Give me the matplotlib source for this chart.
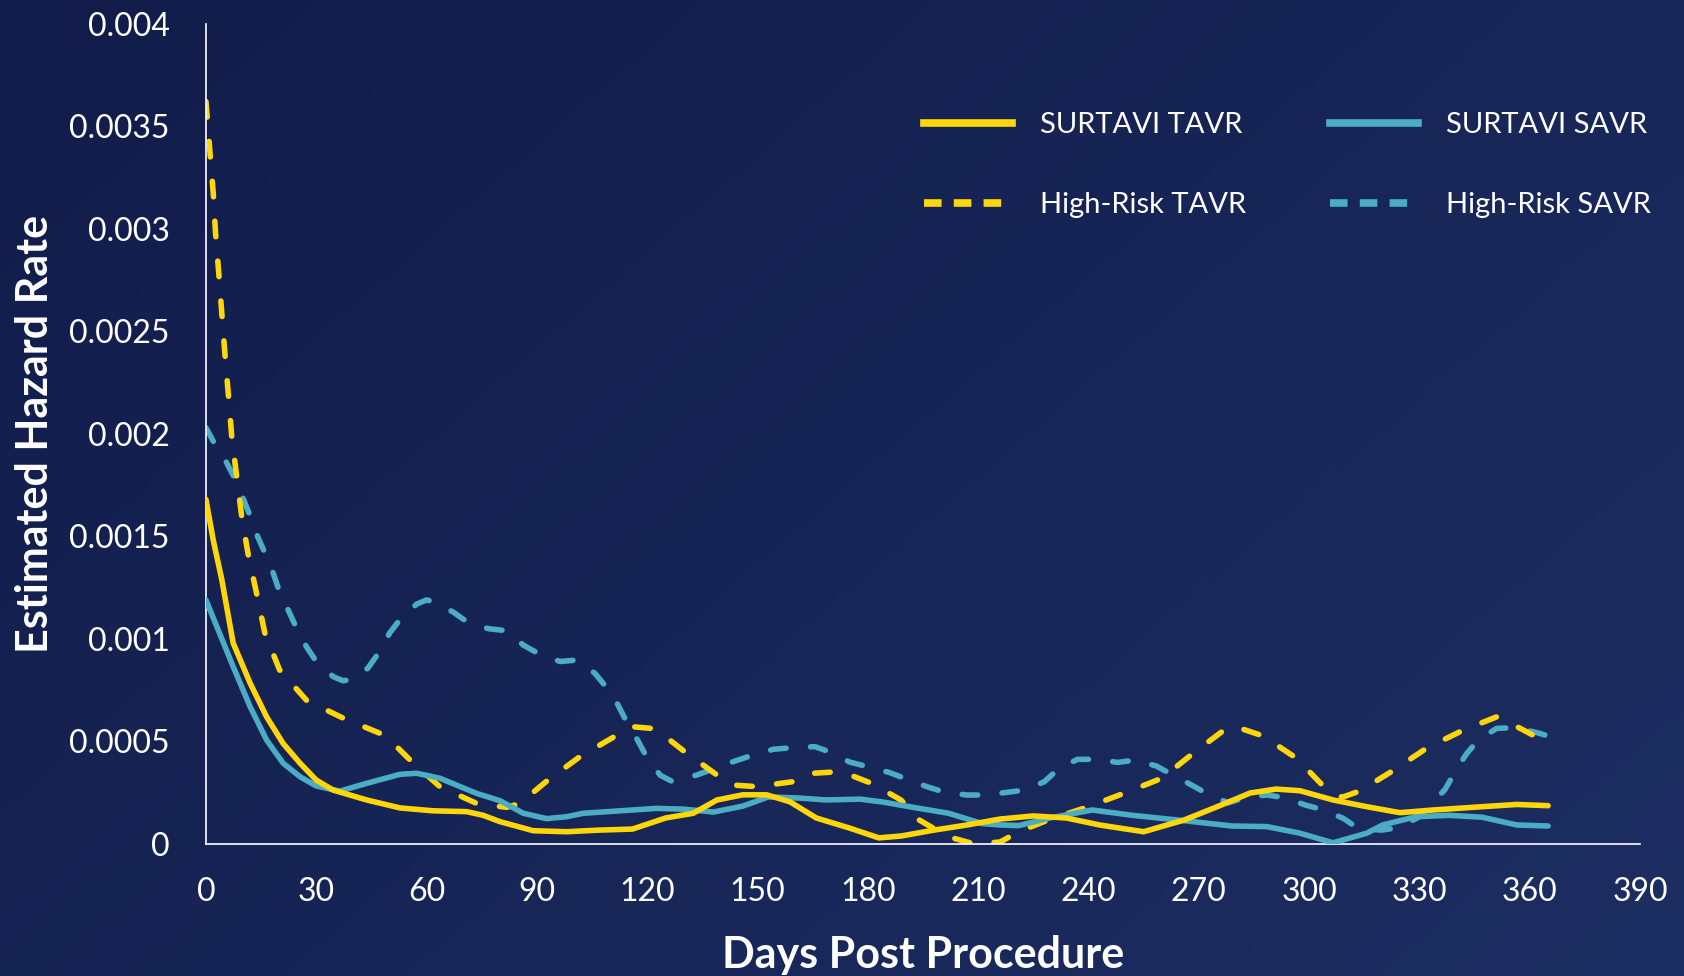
import numpy as np
import matplotlib
matplotlib.use("Agg")
import matplotlib.pyplot as plt
from matplotlib.lines import Line2D

plt.rcParams['font.family'] = ['Lato', 'DejaVu Sans']

# hazard curves, day post procedure vs estimated hazard rate
surtavi_tavr_days = [0, 2, 4.3, 7.4, 12, 16.5, 21, 25.6, 30, 34.6, 43.7, 52.8, 61.8, 70.9, 75.4, 80, 89, 98,
                     107, 116, 125, 132.5, 139, 146, 152.5, 158.8, 166, 175, 183, 189, 198, 207, 216, 225,
                     234, 243, 255, 266, 275, 284, 291, 297.5, 306.5, 315.7, 324.7, 333.7, 347, 356.5, 365]
surtavi_tavr = [0.00168, 0.00148, 0.00129, 0.00098, 0.000785, 0.00062, 0.00049, 0.000394, 0.000312, 0.000263,
                0.000215, 0.000176, 0.000162, 0.000158, 0.00014, 0.000109, 0.000065, 0.00006, 0.000068,
                0.000073, 0.000127, 0.00015, 0.000215, 0.00024, 0.00024, 0.000206, 0.000127, 0.000078,
                0.00003, 0.000039, 0.000068, 0.000093, 0.000122, 0.000137, 0.000127, 0.000093, 0.00006,
                0.000117, 0.000182, 0.000249, 0.000268, 0.00026, 0.000215, 0.000182, 0.000153, 0.000166,
                0.000182, 0.000193, 0.000187]

surtavi_savr_days = [0, 7.4, 12, 16.5, 21, 25.6, 30, 36.4, 43.7, 52.8, 57.3, 63.6, 73.6, 80, 86.3, 92.6,
                     98, 102.6, 112.6, 122.6, 130, 138, 146, 153, 161.5, 168.8, 177.9, 184, 193, 202, 211,
                     216, 221, 229.5, 241, 252, 266, 279, 288.5, 297.5, 306.5, 315.7, 320, 329, 338, 347,
                     356.5, 365]
surtavi_savr = [0.00119, 0.000865, 0.00067, 0.000507, 0.000394, 0.000328, 0.000283, 0.000258, 0.000296,
                0.00034, 0.000345, 0.000321, 0.000247, 0.000211, 0.00015, 0.000124, 0.000133, 0.00015,
                0.000162, 0.000174, 0.00017, 0.000156, 0.000185, 0.00023, 0.000224, 0.000215, 0.000219,
                0.000205, 0.000177, 0.00015, 0.0001, 0.000093, 0.00009, 0.000127, 0.000166, 0.00014,
                0.000114, 0.000088, 0.000085, 0.000053, 0.000006, 0.000053, 0.000093, 0.000133, 0.00014,
                0.000131, 0.000093, 0.000088]

highrisk_tavr_days = [0, 1.1, 2, 2.6, 3.5, 4.3, 5.2, 6.1, 7, 8.3, 9.7, 11.5, 13.8, 16, 20, 27.4, 37.3,
                      47.3, 51, 55.5, 63.6, 73.6, 81.8, 85.4, 93, 101.7, 111, 116, 121, 125, 130, 139,
                      143, 149.7, 159.6, 165, 170.5, 174, 181, 189, 194, 198.7, 203, 209, 216, 221, 229,
                      240, 250, 260, 268.5, 277.5, 280, 287.5, 296.6, 304, 309, 314, 323, 332, 342, 351,
                      354, 361, 365]
highrisk_tavr = [0.00362, 0.00337, 0.00317, 0.00298, 0.00278, 0.00259, 0.00238, 0.00219, 0.00199,
                 0.0018, 0.0016, 0.00141, 0.00122, 0.00103, 0.00085, 0.0007, 0.000614, 0.00054, 0.00049,
                 0.00041, 0.00028, 0.000198, 0.000179, 0.000198, 0.000312, 0.000426, 0.000523, 0.000572,
                 0.000564, 0.000523, 0.000453, 0.000336, 0.000288, 0.00028, 0.000304, 0.000345, 0.000351,
                 0.000345, 0.000296, 0.000215, 0.000117, 0.000068, 0.00003, 0.0, 0.00001, 0.00006,
                 0.000117, 0.000182, 0.00025, 0.000321, 0.000443, 0.000564, 0.000572, 0.000527, 0.000418,
                 0.00028, 0.000228, 0.00026, 0.00036, 0.000468, 0.000556, 0.00062, 0.000596, 0.00053,
                 0.0005]

highrisk_savr_days = [0, 2.4, 5.6, 7.9, 10, 12, 13.8, 16, 18.3, 20, 22.4, 24.7, 27.4, 30, 34.6, 37.3,
                      39.6, 44, 47.3, 50, 53, 57.3, 60, 62.3, 67.3, 71.3, 76.8, 81.8, 86.3, 90.8, 96.3,
                      100.8, 105.8, 109, 112, 114.4, 117.6, 119.8, 123.5, 126.6, 133.4, 138.4, 143.9,
                      148.8, 154.3, 159.5, 165.6, 170, 175, 180, 186, 190.5, 196, 201, 207, 212, 217.8,
                      222.7, 228, 231.8, 237, 242, 248, 253, 258.5, 263, 268, 272.6, 278, 283, 288.5,
                      293.4, 299, 304, 309.3, 313.4, 319.7, 324.3, 330, 333, 337, 339.7, 342.9, 346, 351,
                      356, 362, 365]
highrisk_savr = [0.00203, 0.00195, 0.00186, 0.00178, 0.00169, 0.0016, 0.00151, 0.00142, 0.00132,
                 0.00123, 0.00114, 0.00105, 0.00096, 0.00089, 0.000816, 0.000796, 0.000803, 0.000857,
                 0.00094, 0.00103, 0.0011, 0.00117, 0.00119, 0.00118, 0.00113, 0.00108, 0.00105, 0.00104,
                 0.00097, 0.000925, 0.00089, 0.000897, 0.000832, 0.000762, 0.00068, 0.000596, 0.0005,
                 0.000426, 0.000336, 0.000307, 0.000336, 0.000369, 0.000405, 0.000434, 0.000462,
                 0.00047, 0.000475, 0.000447, 0.0004, 0.000377, 0.000348, 0.000317, 0.00028, 0.000252,
                 0.000239, 0.000239, 0.000252, 0.000263, 0.000304, 0.000366, 0.000413, 0.000413,
                 0.000398, 0.00041, 0.00038, 0.000336, 0.000288, 0.000242, 0.000201, 0.000228,
                 0.000239, 0.000226, 0.00019, 0.000166, 0.000125, 0.000076, 0.000068, 0.00008,
                 0.000133, 0.00019, 0.000267, 0.000353, 0.000442, 0.000507, 0.000564, 0.000567,
                 0.000543, 0.000527]

x_ticks = list(range(0, 391, 30))
y_ticks = [0, 0.0005, 0.001, 0.0015, 0.002, 0.0025, 0.003, 0.0035, 0.004]
y_tick_labels = ["0", "0.0005", "0.001", "0.0015", "0.002", "0.0025", "0.003", "0.0035", "0.004"]

YELLOW = "#FFD60A"
TEAL = "#4BACC6"
DASH = (2.8, 4.4)

fig = plt.figure(figsize=(16.84, 9.76), dpi=100)

# navy background, slightly lighter towards the bottom right
bg = fig.add_axes([0, 0, 1, 1], zorder=-10)
h, w = 200, 340
yy, xx = np.mgrid[0:h, 0:w]
t = (xx / w * 0.6 + yy / h * 0.4)
c0 = np.array([17, 28, 74]) / 255
c1 = np.array([29, 46, 98]) / 255
grad = c0[None, None, :] * (1 - t[..., None]) + c1[None, None, :] * t[..., None]
bg.imshow(grad, aspect="auto", extent=[0, 1, 0, 1], origin="upper")
bg.axis("off")

ax = fig.add_axes([0.1223, 0.1352, 0.8516, 0.8406])
ax.patch.set_alpha(0)

ax.plot(surtavi_tavr_days, surtavi_tavr, color=YELLOW, lw=4, solid_capstyle="round",
        solid_joinstyle="round", zorder=4)
ax.plot(surtavi_savr_days, surtavi_savr, color=TEAL, lw=4, solid_capstyle="round",
        solid_joinstyle="round", zorder=3)
ax.plot(highrisk_tavr_days, highrisk_tavr, color=YELLOW, lw=4, dashes=DASH,
        dash_capstyle="round", zorder=2)
ax.plot(highrisk_savr_days, highrisk_savr, color=TEAL, lw=4, dashes=DASH,
        dash_capstyle="round", zorder=1)

ax.set_xlim(0, 390)
ax.set_ylim(0, 0.004)
ax.set_xticks(x_ticks)
ax.set_yticks(y_ticks)
ax.set_yticklabels(y_tick_labels)
ax.tick_params(axis="both", length=0, labelcolor="white", labelsize=23)
ax.tick_params(axis="y", pad=26)
ax.tick_params(axis="x", pad=24)

for side in ["top", "right"]:
    ax.spines[side].set_visible(False)
for side in ["left", "bottom"]:
    ax.spines[side].set_color("white")
    ax.spines[side].set_linewidth(1.2)

ax.set_xlabel("Days Post Procedure", color="white", fontsize=31, fontweight="bold", labelpad=20)
ax.set_ylabel("Estimated Hazard Rate", color="white", fontsize=31, fontweight="bold", labelpad=10)

handles = [
    Line2D([], [], color=YELLOW, lw=5.5),
    Line2D([], [], color=YELLOW, lw=5.5, dashes=(2.3, 1.6)),
    Line2D([], [], color=TEAL, lw=5.5),
    Line2D([], [], color=TEAL, lw=5.5, dashes=(2.3, 1.6)),
]
labels = ["SURTAVI TAVR", "High-Risk TAVR", "SURTAVI SAVR", "High-Risk SAVR"]
leg = fig.legend(handles, labels, ncol=2, loc="upper left", bbox_to_anchor=(0.5487, 0.8855),
                 frameon=False, fontsize=21, labelcolor="white", handlelength=3.0,
                 handletextpad=0.96, columnspacing=2.9, labelspacing=1.85,
                 borderpad=0, borderaxespad=0)

fig.savefig("out.png", dpi=100)
